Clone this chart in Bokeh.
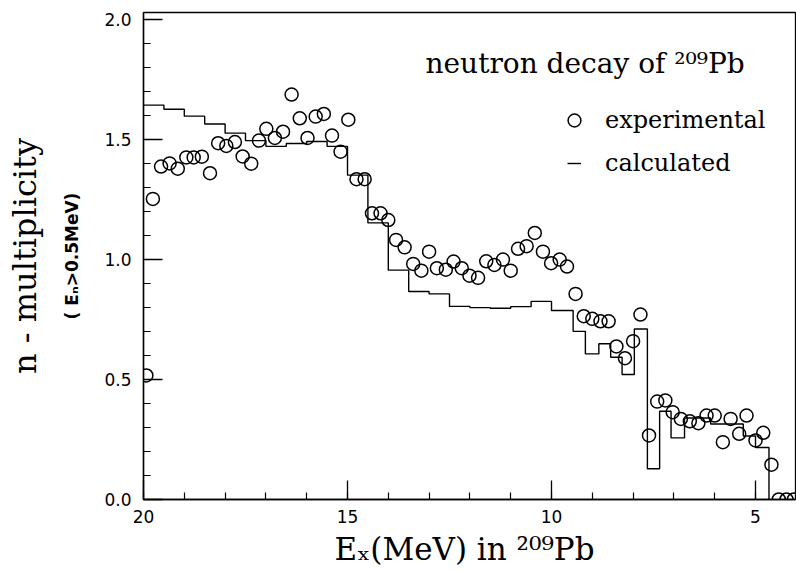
from bokeh.plotting import figure
from bokeh.models import (Range1d, FixedTicker, LinearAxis, Label, Legend, LegendItem,
                          PrintfTickFormatter)
from bokeh.embed import file_html
from bokeh.resources import INLINE

# ---- data ----
exp_energy = [19.93, 19.77, 19.57, 19.36, 19.16, 18.95, 18.77, 18.57, 18.37, 18.17,
              17.97, 17.76, 17.57, 17.36, 17.17, 16.99, 16.78, 16.58, 16.37, 16.17,
              15.98, 15.78, 15.58, 15.38, 15.17, 14.98, 14.78, 14.58, 14.40, 14.19,
              14.00, 13.81, 13.60, 13.39, 13.19, 13.00, 12.81, 12.59, 12.40, 12.20,
              12.01, 11.80, 11.60, 11.40, 11.19, 11.00, 10.82, 10.61, 10.41, 10.21,
              10.01, 9.80, 9.62, 9.41, 9.21, 9.00, 8.80, 8.60, 8.41, 8.20,
              8.00, 7.82, 7.61, 7.41, 7.21, 7.03, 6.83, 6.61, 6.40, 6.20,
              6.00, 5.80, 5.61, 5.40, 5.22, 5.00, 4.81, 4.61, 4.43, 4.24, 4.06]
exp_mult = [0.517, 1.253, 1.388, 1.401, 1.379, 1.426, 1.426, 1.429, 1.360, 1.485,
            1.474, 1.490, 1.430, 1.400, 1.496, 1.545, 1.507, 1.533, 1.688, 1.589,
            1.507, 1.596, 1.607, 1.517, 1.450, 1.583, 1.335, 1.335, 1.193, 1.193,
            1.165, 1.082, 1.051, 0.982, 0.954, 1.033, 0.964, 0.958, 0.992, 0.964,
            0.933, 0.924, 0.993, 0.978, 1.000, 0.954, 1.045, 1.056, 1.111, 1.033,
            0.985, 1.000, 0.971, 0.857, 0.764, 0.753, 0.743, 0.743, 0.638, 0.589,
            0.660, 0.771, 0.267, 0.408, 0.413, 0.364, 0.336, 0.326, 0.318, 0.350,
            0.350, 0.239, 0.336, 0.274, 0.350, 0.246, 0.278, 0.145, 0.0, 0.0, 0.0]

calc_edges = [20.0, 19.5, 19.0, 18.5, 18.0, 17.5, 17.0, 16.5, 16.0, 15.5, 15.0,
              14.5, 14.0, 13.5, 13.0, 12.5, 12.0, 11.5, 11.0, 10.5, 10.0, 9.47,
              9.17, 8.84, 8.55, 8.27, 7.97, 7.65, 7.35, 7.07, 6.74, 6.1, 5.3, 5.0, 4.67]
calc_mult = [1.644, 1.627, 1.598, 1.565, 1.527, 1.496, 1.472, 1.484, 1.492, 1.472,
             1.352, 1.153, 0.956, 0.867, 0.857, 0.805, 0.800, 0.797, 0.804, 0.826,
             0.788, 0.701, 0.607, 0.649, 0.593, 0.521, 0.711, 0.128, 0.368, 0.257,
             0.340, 0.315, 0.265, 0.217]

y_major = [0.0, 0.5, 1.0, 1.5, 2.0]
y_minor = [round(0.1 * i, 1) for i in range(21)]
x_major = [20, 15, 10, 5]
x_minor = list(range(4, 21))

# ---- build step path from histogram bins ----
step_x = [calc_edges[0]]
step_y = [calc_mult[0]]
for i, v in enumerate(calc_mult):
    step_x.append(calc_edges[i + 1]); step_y.append(v)
    nxt = calc_mult[i + 1] if i + 1 < len(calc_mult) else 0.0
    step_x.append(calc_edges[i + 1]); step_y.append(nxt)

SERIF = "DejaVu Serif"
SANS = "DejaVu Sans"

p = figure(width=796, height=572, output_backend="svg", toolbar_location=None,
           x_range=Range1d(20, 4.02), y_range=Range1d(0, 2.03),
           min_border_left=143, min_border_right=1, min_border_top=12,
           min_border_bottom=73, x_axis_type=None, y_axis_type=None)
p.grid.visible = False
p.outline_line_color = "black"
p.outline_line_width = 1.3
p.background_fill_color = "white"
p.border_fill_color = "white"

line_r = p.line(step_x, step_y, line_color="black", line_width=1.4)
pts_r = p.scatter(exp_energy, exp_mult, marker="circle", size=13, fill_color=None,
                  line_color="black", line_width=1.5)

# x axis
xax = LinearAxis(ticker=FixedTicker(ticks=x_major, minor_ticks=x_minor))
xax.major_tick_in = 19; xax.major_tick_out = 0
xax.minor_tick_in = 7; xax.minor_tick_out = 0
xax.axis_line_width = 1.4; xax.major_tick_line_width = 1.3; xax.minor_tick_line_width = 1.2
xax.major_label_text_font = SANS; xax.major_label_text_font_size = "17px"
xax.major_label_text_color = "black"
xax.major_label_standoff = 10
xax.axis_label = "Eₓ(MeV) in  ²⁰⁹Pb"
xax.axis_label_text_font = SERIF; xax.axis_label_text_font_size = "31px"
xax.axis_label_text_color = "black"
xax.axis_label_text_font_style = "normal"; xax.axis_label_standoff = 5
p.add_layout(xax, "below")

# y axis (inner, with ticks and sub-label)
yax = LinearAxis(ticker=FixedTicker(ticks=y_major, minor_ticks=y_minor),
                 formatter=PrintfTickFormatter(format="%.1f"))
yax.major_tick_in = 19; yax.major_tick_out = 0
yax.minor_tick_in = 7; yax.minor_tick_out = 0
yax.axis_line_width = 1.4; yax.major_tick_line_width = 1.3; yax.minor_tick_line_width = 1.2
yax.major_label_text_font = SANS; yax.major_label_text_font_size = "17px"
yax.major_label_text_color = "black"
yax.major_label_standoff = 12
yax.axis_label = "( Eₙ>0.5MeV)"
yax.axis_label_text_font = SANS; yax.axis_label_text_font_size = "17px"
yax.axis_label_text_color = "black"
yax.axis_label_text_font_style = "bold"; yax.axis_label_standoff = 19
p.add_layout(yax, "left")

# outer y axis carrying the main label
yax2 = LinearAxis(ticker=FixedTicker(ticks=[]))
yax2.axis_line_color = None
yax2.major_tick_line_color = None; yax2.minor_tick_line_color = None
yax2.major_label_text_font_size = "0px"
yax2.axis_label = "n - multiplicity"
yax2.axis_label_text_font = SERIF; yax2.axis_label_text_font_size = "32px"
yax2.axis_label_text_color = "black"
yax2.axis_label_text_font_style = "normal"; yax2.axis_label_standoff = 16
p.add_layout(yax2, "left")

# title inside the frame
title = Label(x=282, y=436, x_units="screen", y_units="screen",
              text="neutron decay of ²⁰⁹Pb", text_font=SERIF,
              text_font_size="28px", text_color="black", text_baseline="alphabetic")
p.add_layout(title)

def make_legend(item, gw, gh, loc, standoff):
    lg = Legend(items=[item], location=loc)
    lg.label_text_font = SERIF
    lg.label_text_font_size = "24px"
    lg.label_text_color = "black"
    lg.glyph_width = gw
    lg.glyph_height = gh
    lg.label_height = 24
    lg.label_standoff = standoff
    lg.spacing = 0
    lg.padding = 0
    lg.margin = 0
    lg.border_line_color = None
    lg.background_fill_alpha = 0
    return lg

p.add_layout(make_legend(LegendItem(label="experimental", renderers=[pts_r]),
                         32, 32, (415, 363), 15))
p.add_layout(make_legend(LegendItem(label="calculated", renderers=[line_r]),
                         14, 24, (424, 322), 24))

open("out.html", "w").write(file_html(p, INLINE))
